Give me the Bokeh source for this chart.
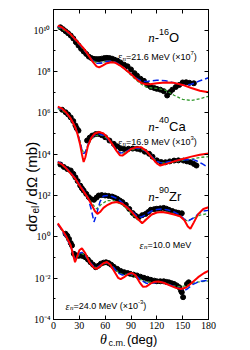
import numpy as np
from bokeh.plotting import figure
from bokeh.models import Label, LinearAxis, LogAxis, FixedTicker, CustomJSTickFormatter
from bokeh.embed import file_html
from bokeh.resources import INLINE

# ---------------- data (log10 of dσ/dΩ in mb, already scaled) ----------------
# n-16O, 21.6 MeV (x1e7)
o_th_exp = [8, 11, 14, 17, 20, 23, 26, 29, 32, 35, 38, 41, 44, 47, 50, 53, 56, 59, 62, 65, 68, 71, 74, 78,
            82, 86, 90, 94, 97, 101, 105, 109, 113, 117, 120, 124, 128, 132, 135, 138, 142, 146, 150, 154, 158, 163]
o_exp = [10.14, 10.05, 9.95, 9.85, 9.74, 9.6, 9.42, 9.26, 9.1, 8.97, 8.85, 8.72, 8.65, 8.61, 8.6, 8.6, 8.62, 8.65,
         8.66, 8.65, 8.62, 8.57, 8.52, 8.42, 8.33, 8.25, 8.1, 7.92, 7.8, 7.65, 7.55, 7.35, 7.25, 7.2, 7.16, 7.12,
         7.05, 6.84, 7.0, 7.12, 7.25, 7.35, 7.47, 7.48, 7.45, 7.43]
o_th_red = [5, 10, 15, 20, 25, 30, 35, 40, 45, 50, 53, 57, 62, 67, 72, 77, 82, 87, 92, 97, 102, 107, 112, 120,
            130, 140, 150, 160, 170, 180]
o_red = [10.22, 10.13, 9.97, 9.8, 9.57, 9.35, 9.12, 8.82, 8.5, 8.25, 8.2, 8.28, 8.4, 8.45, 8.42, 8.3, 8.15, 7.98,
         7.8, 7.6, 7.45, 7.38, 7.38, 7.43, 7.47, 7.45, 7.35, 7.2, 7.07, 7.0]
o_th_mod = [5, 10, 15, 20, 25, 30, 35, 40, 45, 50, 55, 60, 65, 70, 75, 80, 85, 90, 95, 100, 105, 110, 120, 130,
            140, 150, 160, 170, 180]
o_blue = [10.18, 10.1, 9.95, 9.78, 9.55, 9.32, 9.08, 8.8, 8.55, 8.4, 8.4, 8.47, 8.5, 8.48, 8.38, 8.23, 8.05, 7.87,
          7.7, 7.58, 7.52, 7.53, 7.58, 7.55, 7.45, 7.33, 7.38, 7.55, 7.7]
o_green = [10.12, 10.05, 9.92, 9.75, 9.53, 9.3, 9.06, 8.78, 8.55, 8.42, 8.42, 8.48, 8.5, 8.46, 8.35, 8.2, 8.02,
           7.83, 7.62, 7.45, 7.3, 7.22, 7.18, 7.1, 6.85, 6.65, 6.6, 6.68, 6.8]

# n-40Ca, 16.9 MeV (x1e3)
ca_th_exp = [10, 14, 17, 20, 23, 25.5, 27, 29, 39, 42, 45, 49, 52.5, 56, 60, 65, 70, 74, 78, 82, 87, 92, 97, 101,
             106, 111, 115, 120, 125, 130, 135, 140, 145, 151, 155, 159, 163, 166]
ca_exp = [6.15, 6.03, 5.92, 5.78, 5.6, 5.39, 5.25, 5.14, 4.66, 4.8, 4.9, 4.97, 4.98, 4.92, 4.82, 4.66, 4.5, 4.38,
          4.28, 4.25, 4.26, 4.27, 4.26, 4.22, 4.12, 4.02, 3.88, 3.7, 3.62, 3.61, 3.65, 3.69, 3.7, 3.69, 3.65, 3.61,
          3.53, 3.45]
ca_th_red = [5, 10, 15, 20, 25, 28, 31, 33, 35, 37, 40, 44, 48, 53, 58, 63, 68, 73, 77, 80, 84, 90, 96, 102, 108,
             114, 120, 124, 130, 140, 150, 160, 170, 180]
ca_red = [6.3, 6.2, 6.0, 5.73, 5.33, 4.95, 4.45, 4.0, 3.62, 3.85, 4.4, 4.8, 5.0, 5.07, 5.0, 4.8, 4.5, 4.17, 3.95,
          3.93, 4.05, 4.25, 4.33, 4.33, 4.15, 3.85, 3.55, 3.45, 3.52, 3.65, 3.77, 3.88, 3.97, 4.03]
ca_th_mod = [5, 10, 15, 20, 25, 28, 31, 33, 35, 37, 40, 44, 48, 53, 58, 63, 68, 73, 78, 84, 90, 96, 102, 108, 114,
             120, 125, 130, 140, 150, 160, 165, 172, 180]
ca_blue = [6.25, 6.17, 5.98, 5.72, 5.35, 5.0, 4.55, 4.2, 4.02, 4.1, 4.45, 4.78, 4.93, 4.97, 4.92, 4.75, 4.48, 4.2,
           4.05, 4.12, 4.25, 4.3, 4.28, 4.12, 3.88, 3.65, 3.58, 3.6, 3.68, 3.72, 3.75, 3.7, 3.55, 3.35]
ca_green = [6.2, 6.12, 5.95, 5.7, 5.35, 5.02, 4.6, 4.25, 4.05, 4.12, 4.42, 4.73, 4.88, 4.93, 4.9, 4.73, 4.47, 4.2,
            4.03, 4.08, 4.2, 4.27, 4.25, 4.1, 3.88, 3.65, 3.57, 3.58, 3.64, 3.7, 3.76, 3.8, 3.85, 3.88]

# n-90Zr, 10.0 MeV (x1)
zr_th_exp = [8, 12, 16, 20, 23, 25.5, 28, 31, 33, 35, 38, 41, 44, 47, 50, 52.5, 56, 60, 64, 68, 71, 74, 77, 80,
             84, 88, 92, 95, 99, 103, 107, 110, 113, 117, 120, 124, 128, 131, 134, 138, 142, 145, 149]
zr_exp = [3.5, 3.38, 3.28, 3.21, 3.05, 2.88, 2.7, 2.48, 2.35, 2.24, 2.08, 1.92, 1.82, 1.79, 1.9, 2.0, 2.02, 2.0,
          1.98, 1.95, 1.9, 1.84, 1.76, 1.68, 1.55, 1.35, 1.15, 1.03, 0.95, 1.05, 1.11, 1.2, 1.31, 1.34, 1.36, 1.38,
          1.4, 1.36, 1.31, 1.25, 1.19, 1.16, 1.14]
zr_th_red = [5, 10, 15, 20, 25, 30, 35, 40, 45, 48, 51, 54, 58, 63, 68, 74, 80, 86, 92, 97, 103, 108, 114, 120,
             126, 133, 140, 147, 152, 156, 159, 163, 168, 174, 180]
zr_red = [3.62, 3.5, 3.3, 3.07, 2.83, 2.5, 2.2, 1.88, 1.5, 1.25, 1.11, 1.2, 1.4, 1.55, 1.65, 1.68, 1.6, 1.4, 1.15,
          0.9, 0.66, 0.85, 1.08, 1.18, 1.2, 1.15, 1.08, 1.0, 0.8, 0.5, 0.39, 0.7, 1.1, 1.35, 1.43]
zr_th_blue = [5, 10, 15, 20, 25, 30, 35, 40, 44, 47, 50, 54, 58, 63, 68, 74, 80, 86, 92, 97, 102, 108, 114, 120,
              126, 133, 140, 147, 152, 157, 162, 168, 174, 180]
zr_blue = [3.65, 3.52, 3.32, 3.1, 2.85, 2.55, 2.25, 1.9, 1.3, 0.72, 1.1, 1.7, 1.98, 2.0, 1.95, 1.85, 1.65, 1.42,
           1.2, 1.0, 0.95, 1.1, 1.25, 1.32, 1.35, 1.3, 1.2, 1.05, 0.85, 0.78, 0.9, 1.1, 1.25, 1.28]
zr_th_green = [5, 10, 15, 20, 25, 30, 35, 40, 45, 50, 55, 62, 70, 80, 90, 97, 103, 110, 120, 130, 140, 150, 155,
               160, 170, 180]
zr_green = [3.6, 3.48, 3.28, 3.05, 2.8, 2.5, 2.2, 1.9, 1.6, 1.35, 1.55, 1.75, 1.75, 1.55, 1.15, 0.85, 0.7, 0.95,
            1.2, 1.22, 1.12, 0.9, 0.78, 0.85, 1.05, 1.13]

# 24.0 MeV (x1e-3)
e24_th_exp = [14, 16, 18, 20, 21.5, 23.6, 26.6, 29, 31, 34, 37, 40, 43, 46, 49, 52, 55, 58, 61, 64, 67, 70, 74,
              78, 82, 86, 89, 93, 97, 101, 105, 109, 113, 117, 120, 124, 128, 131, 134, 137, 140, 143, 146, 148,
              149, 150.5, 155, 157]
e24_exp = [0.15, 0.05, -0.1, -0.3, -0.42, -0.82, -0.9, -0.92, -0.9, -0.93, -0.99, -1.1, -1.23, -1.35, -1.47, -1.4,
           -1.3, -1.25, -1.23, -1.27, -1.35, -1.45, -1.55, -1.65, -1.71, -1.75, -1.79, -1.83, -1.87, -1.93, -1.98,
           -2.03, -2.08, -2.12, -2.15, -2.15, -2.15, -2.18, -2.2, -2.24, -2.28, -2.35, -2.44, -2.6, -2.68, -2.92,
           -2.28, -2.2]
e24_th_red = [5, 10, 15, 20, 23, 25, 27, 30, 33, 37, 42, 47, 50, 54, 58, 62, 66, 71, 75, 78, 82, 87, 91, 95, 100,
              104, 108, 113, 118, 122, 128, 135, 142, 148, 154, 160, 168, 175, 180]
e24_red = [0.65, 0.35, 0.0, -0.42, -0.9, -1.23, -1.0, -0.65, -0.55, -0.8, -1.25, -1.5, -1.55, -1.42, -1.28, -1.22,
           -1.35, -1.7, -1.98, -2.05, -1.95, -1.8, -1.75, -1.85, -2.2, -2.42, -2.4, -2.25, -2.17, -2.16, -2.22,
           -2.35, -2.47, -2.52, -2.45, -2.25, -1.95, -1.75, -1.65]
e24_th_blue = [5, 10, 15, 20, 23, 25, 27, 30, 33, 37, 42, 47, 50, 55, 60, 64, 70, 75, 80, 86, 91, 96, 102, 108,
               114, 120, 126, 132, 140, 147, 152, 156, 162, 170, 180]
e24_blue = [0.6, 0.3, -0.05, -0.45, -0.85, -1.1, -1.0, -0.8, -0.75, -0.9, -1.2, -1.45, -1.5, -1.35, -1.25, -1.27,
            -1.5, -1.75, -1.85, -1.8, -1.8, -1.9, -2.1, -2.25, -2.25, -2.2, -2.2, -2.28, -2.4, -2.5, -2.6, -2.5,
            -2.3, -2.15, -2.1]
e24_th_green = [5, 10, 15, 20, 23, 25, 27, 30, 33, 37, 42, 47, 50, 55, 60, 65, 70, 75, 80, 90, 100, 108, 120, 130,
                140, 148, 155, 165, 180]
e24_green = [0.6, 0.3, -0.05, -0.45, -0.85, -1.15, -1.05, -0.85, -0.8, -0.92, -1.2, -1.45, -1.5, -1.38, -1.28,
             -1.32, -1.5, -1.7, -1.82, -1.82, -2.05, -2.2, -2.18, -2.25, -2.38, -2.42, -2.35, -2.2, -2.13]

x_ticks = [0, 30, 60, 90, 120, 150, 180]
y_ticks = [1e-4, 1e-2, 1e0, 1e2, 1e4, 1e6, 1e8, 1e10]
y_tick_labels = ["10⁻⁴", "10⁻²", "10⁰", "10²", "10⁴", "10⁶", "10⁸", "10¹⁰"]
y_minor = [1e-3, 1e-1, 1e1, 1e3, 1e5, 1e7, 1e9]

# ---------------- styling ----------------
RED = "#ff0000"
BLUE = "#0022ee"
GREEN = "#339a2e"
SERIF = "Liberation Serif"
SANS = "Liberation Sans"

p = figure(frame_width=155, frame_height=310, x_range=(0, 180), y_range=(1e-4, 1e11), y_axis_type="log",
           output_backend="svg", toolbar_location=None,
           min_border_left=53, min_border_right=42, min_border_top=9, min_border_bottom=31)
p.background_fill_color = "white"
p.border_fill_color = "white"
p.outline_line_color = "black"
p.outline_line_width = 1
p.xgrid.visible = False
p.ygrid.visible = False


def style_axis(ax):
    ax.major_tick_in = 4
    ax.major_tick_out = 0
    ax.minor_tick_in = 2
    ax.minor_tick_out = 0
    ax.axis_line_color = "black"
    ax.major_tick_line_color = "black"
    ax.minor_tick_line_color = "black"
    ax.major_label_text_font = SERIF
    ax.major_label_text_font_size = "10px"
    ax.major_label_text_color = "black"


xa = p.xaxis[0]
xa.ticker = FixedTicker(ticks=x_ticks, minor_ticks=[])
style_axis(xa)
xa.major_label_standoff = 2

ya = p.yaxis[0]
ya.ticker = FixedTicker(ticks=y_ticks, minor_ticks=y_minor)
style_axis(ya)
ya.major_label_standoff = 3
ya.major_label_overrides = {t: s for t, s in zip(y_ticks, y_tick_labels)}

blank = CustomJSTickFormatter(code="return ''")
top = LinearAxis(ticker=FixedTicker(ticks=x_ticks, minor_ticks=[]), formatter=blank)
style_axis(top)
top.major_label_standoff = 0
top.major_label_text_font_size = "1px"
p.add_layout(top, "above")
right = LogAxis(ticker=FixedTicker(ticks=y_ticks, minor_ticks=y_minor), formatter=blank)
style_axis(right)
right.major_label_standoff = 0
right.major_label_text_font_size = "1px"
p.add_layout(right, "right")

panels = [
    (o_th_exp, o_exp, o_th_red, o_red, o_th_mod, o_blue, o_th_mod, o_green),
    (ca_th_exp, ca_exp, ca_th_red, ca_red, ca_th_mod, ca_blue, ca_th_mod, ca_green),
    (zr_th_exp, zr_exp, zr_th_red, zr_red, zr_th_blue, zr_blue, zr_th_green, zr_green),
    (e24_th_exp, e24_exp, e24_th_red, e24_red, e24_th_blue, e24_blue, e24_th_green, e24_green),
]


def val(lg):
    return 10.0 ** np.asarray(lg, dtype=float)


for th_e, e, th_r, r, th_b, b, th_g, g in panels:
    p.scatter(th_e, val(e), size=5, color="black")
for th_e, e, th_r, r, th_b, b, th_g, g in panels:
    p.line(th_g, val(g), line_color=GREEN, line_width=1.3, line_dash="3 2")
    p.line(th_b, val(b), line_color=BLUE, line_width=1.5, line_dash="6 3")
    p.line(th_r, val(r), line_color=RED, line_width=2)

# ---------------- rich text helper ----------------
EM = {
    "0": .556, "1": .556, "2": .556, "3": .556, "4": .556, "5": .556, "6": .556, "7": .556, "8": .556,
    "9": .556, ".": .278, " ": .278, "M": .833, "e": .556, "V": .667, "(": .333, ")": .333, "×": .584,
    "=": .584, "-": .333, "n": .5, "O": .778, "C": .722, "a": .556, "Z": .611, "r": .333, "ε": .44,
    "d": .556, "σ": .6, "l": .222, "/": .278, "Ω": .77, "m": .833, "b": .556, "θ": .5, "c": .5, "g": .556,
}


def twidth(s, size):
    return sum(EM.get(ch, .55) for ch in s) * size


def rich(x, y, pieces, angle=0.0, place="center", gap=0.0):
    pos = 0.0
    for text, size, font, style, shift in pieces:
        if angle == 0:
            xo, yo = pos, shift
        else:
            xo, yo = -shift, pos
        lab = Label(x=x, y=y, x_offset=xo, y_offset=yo, text=text, angle=angle,
                    text_font=font, text_font_size=f"{size}px", text_font_style=style,
                    text_baseline="alphabetic", text_align="left", text_color="black")
        p.add_layout(lab, place)
        pos += twidth(text, size) + gap


def nucleus(x, y, mass, sym):
    rich(x, y, [("n", 13, SERIF, "italic", 0), ("-", 13, SANS, "normal", 0),
                (mass, 9, SANS, "normal", 6), (sym, 13, SANS, "normal", 0)])


def energy(x, y, e, scale=None):
    pieces = [("ε", 10, SERIF, "italic", 0), ("n", 7, SERIF, "italic", -2),
              ("=" + e + " MeV" + (" (×10" if scale else ""), 9, SANS, "normal", 0)]
    if scale:
        pieces += [(scale, 6, SANS, "normal", 4), (")", 9, SANS, "normal", 0)]
    rich(x, y, pieces)


nucleus(110, 4.4e9, "16", "O")
energy(75, 5.2e8, "21.6", "7")
nucleus(110, 2.3e5, "40", "Ca")
energy(75, 3.8e4, "16.9", "3")
nucleus(110, 0.9e2, "90", "Zr")
energy(100, 0.4, "10.0")
energy(14, 4.5e-4, "24.0", "-3")

# axis titles: labels kept in a side panel (not clipped by the frame), positioned via the data scales
xl = [("θ", 14, SERIF, "italic", 0), ("c.m.", 9, SANS, "normal", -3), (" (deg)", 13, SANS, "normal", 0)]
xw = sum(twidth(t, s) for t, s, *_ in xl) + 4
rich(90 - (xw / 2) * 180 / 155, 10 ** -4.97, xl, place="below", gap=1.5)

yl = [("dσ", 15, SANS, "normal", 0), ("el", 10, SANS, "normal", -4), (" / dΩ (mb)", 15, SANS, "normal", 0)]
yw = sum(twidth(t, s) for t, s, *_ in yl)
rich(-26, 10 ** (2.48 - (yw / 2) / 20.67), yl, angle=np.pi / 2, place="below", gap=1.0)

open("out.html", "w").write(file_html(p, INLINE))
